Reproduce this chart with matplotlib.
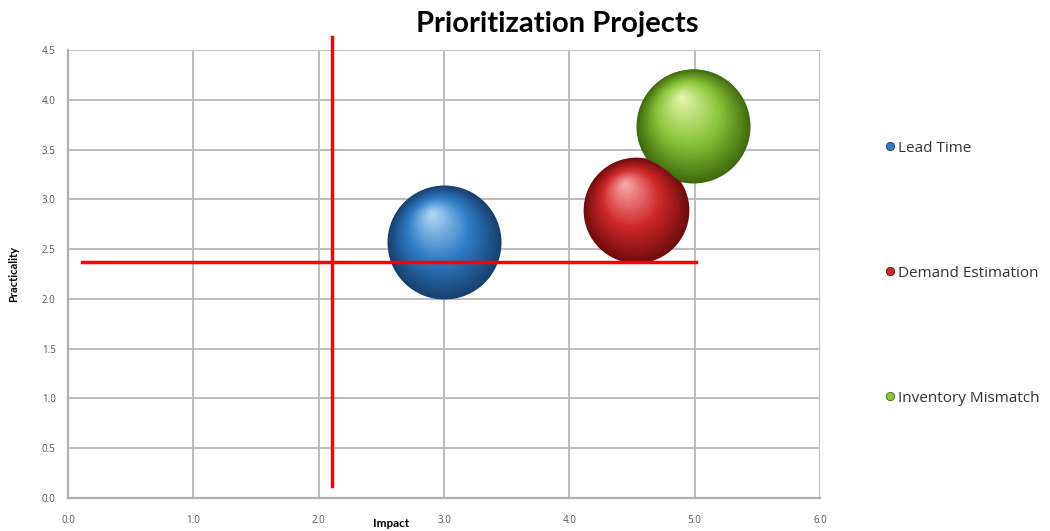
import numpy as np
import matplotlib
matplotlib.use("Agg")
from matplotlib import pyplot as plt
from matplotlib import transforms
from matplotlib.lines import Line2D

# data
projects = ["Lead Time", "Demand Estimation", "Inventory Mismatch"]
impact = [3.0, 4.53, 4.99]
practicality = [2.57, 2.89, 3.74]
bubble_size = [5.0, 4.3, 5.0]

# quadrant divider lines
div_x = 2.11
div_x_span = [0.12, 4.63]
div_y = 2.37
div_y_span = [0.11, 5.01]

x_ticks = [0.0, 1.0, 2.0, 3.0, 4.0, 5.0, 6.0]
y_ticks = [0.0, 0.5, 1.0, 1.5, 2.0, 2.5, 3.0, 3.5, 4.0, 4.5]

# dark edge, mid tone, highlight
palettes = [
    ("#16406f", "#2f7cc6", "#b4dcf8"),
    ("#6e0c0c", "#d02828", "#f7b0b0"),
    ("#3f6a0c", "#8cc43c", "#e8f8b0"),
]

plt.rcParams["font.family"] = ["Open Sans", "DejaVu Sans"]


def mix(c1, c2, t):
    a = np.array(matplotlib.colors.to_rgb(c1))
    b = np.array(matplotlib.colors.to_rgb(c2))
    return tuple(a + (b - a) * t)


def shade(t, pal):
    # edge -> mid -> highlight
    if t < 0.45:
        return mix(pal[0], pal[1], t / 0.45)
    return mix(pal[1], pal[2], (t - 0.45) / 0.55)


def draw_sphere(ax, fig, x, y, diam_pt, pal, steps=60):
    r = diam_pt / 2.0
    hx, hy = -0.22 * r, 0.52 * r
    for k in range(steps):
        t = k / steps
        rad = r * (1 - t)
        tr = transforms.offset_copy(ax.transData, fig=fig,
                                    x=hx * t, y=hy * t, units="points")
        ax.scatter([x], [y], s=(2 * rad) ** 2, color=shade(t, pal),
                   linewidths=0, transform=tr, zorder=3 + k * 0.001)


fig = plt.figure(figsize=(10.5, 5.31), dpi=100)
ax = fig.add_axes([0.0648, 0.0621, 0.7162, 0.8437])

ax.set_xlim(0, 6)
ax.set_ylim(0, 4.5)
ax.set_xticks(x_ticks)
ax.set_yticks(y_ticks)
ax.set_xticklabels(["{:.1f}".format(v) for v in x_ticks])
ax.set_yticklabels(["{:.1f}".format(v) for v in y_ticks])
ax.tick_params(length=0, labelsize=7, colors="#555555")
ax.tick_params(axis="x", pad=12)
ax.tick_params(axis="y", pad=9)
ax.grid(True, color="#bdbdbd", lw=1.4)
ax.set_axisbelow(True)
for side in ["top", "right"]:
    ax.spines[side].set_visible(False)
for side in ["left", "bottom"]:
    ax.spines[side].set_color("#b0b0b0")
    ax.spines[side].set_linewidth(1.6)

# bubble area follows size, 114 px diameter for size 5
scale = 114 * 0.72 / np.sqrt(bubble_size[0])
for i in range(len(projects)):
    draw_sphere(ax, fig, impact[i], practicality[i],
                np.sqrt(bubble_size[i]) * scale, palettes[i])

ax.plot([div_x, div_x], div_x_span, color="#ff0000", lw=2.5,
        clip_on=False, zorder=10)
ax.plot(div_y_span, [div_y, div_y], color="#ff0000", lw=2.5,
        clip_on=False, zorder=10)

fig.text(0.531, 0.955, "Prioritization Projects", fontsize=21,
         fontweight="bold", family=["Lato", "DejaVu Sans"],
         ha="center", va="center")
ax.set_xlabel("Impact", fontsize=8.5, fontweight="bold",
              family=["Lato", "DejaVu Sans"])
ax.xaxis.set_label_coords(0.43, -0.045)
ax.set_ylabel("Practicality", fontsize=8, fontweight="bold",
              family=["Lato", "DejaVu Sans"])
ax.yaxis.set_label_coords(-0.065, 0.5)

handles = [Line2D([], [], ls="none", marker="o", markersize=6,
                  markerfacecolor=p[1], markeredgecolor=p[0],
                  markeredgewidth=0.6) for p in palettes]
ax.legend(handles, projects, loc="center left", bbox_to_anchor=(1.077, 0.502),
          frameon=False, fontsize=11, labelcolor="#333333", labelspacing=7.2,
          handletextpad=0.1, handlelength=0.8, borderaxespad=0)

fig.savefig("out.png", dpi=100)
